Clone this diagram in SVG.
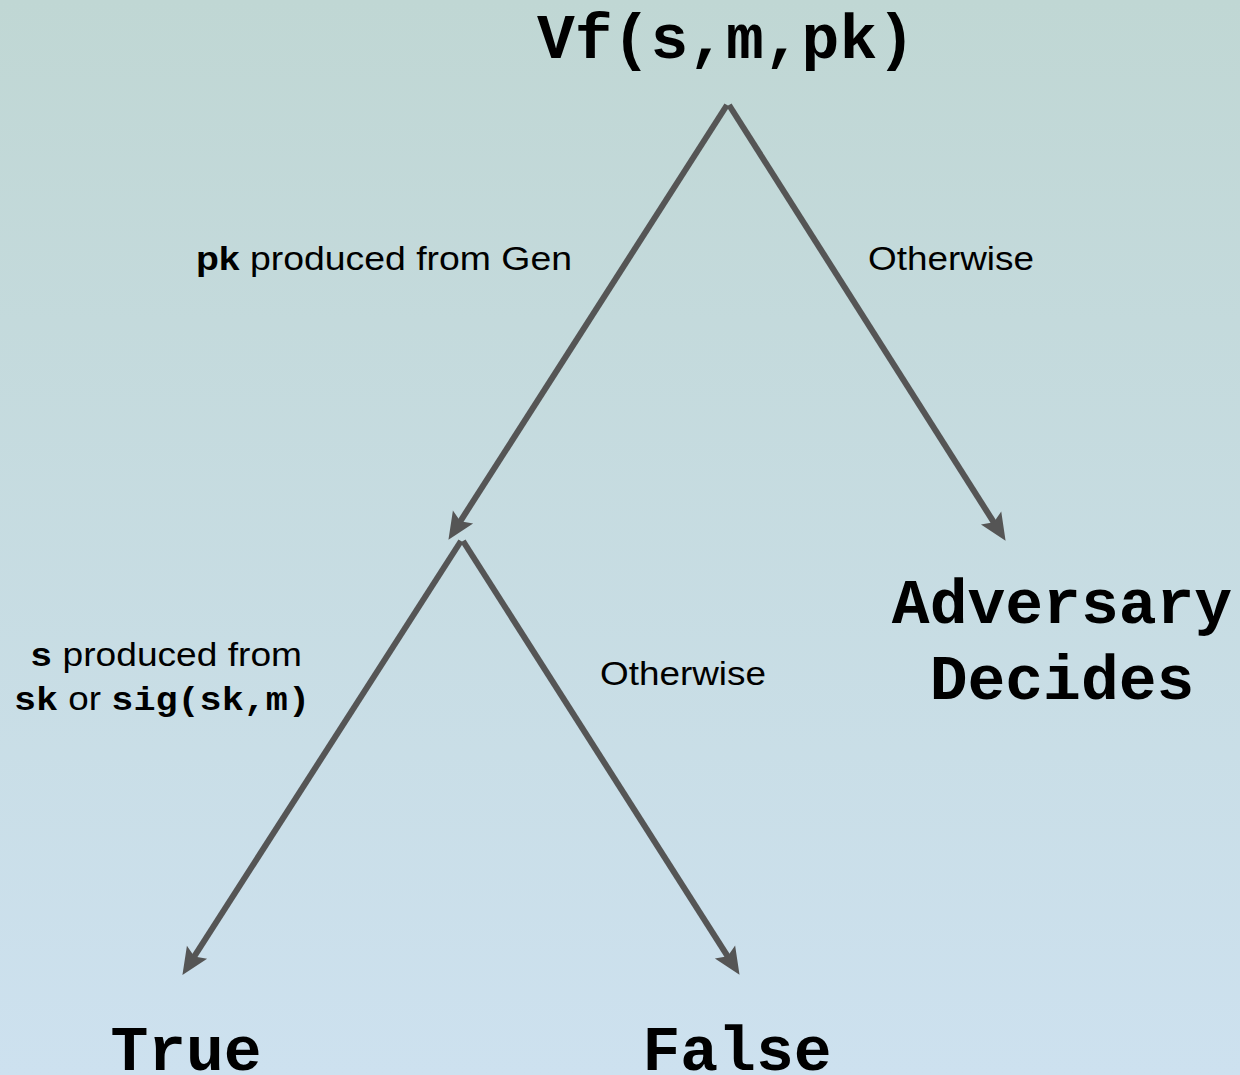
<svg xmlns="http://www.w3.org/2000/svg" width="1240" height="1075" viewBox="0 0 1240 1075">
  <defs>
    <linearGradient id="bg" x1="0" y1="0" x2="0" y2="1">
      <stop offset="0" stop-color="#c0d7d4"/>
      <stop offset="1" stop-color="#cde1ef"/>
    </linearGradient>
    <marker id="arr" markerUnits="userSpaceOnUse" markerWidth="60" markerHeight="60" refX="0" refY="0" orient="auto" viewBox="-30 -30 60 60" overflow="visible">
      <path d="M19,0 L-8,-12 L-3,0 L-8,12 Z" fill="#555555"/>
    </marker>
    <style>
      .edge { stroke: #555555; stroke-width: 6; fill: none; marker-end: url(#arr); }
      .big { font-family: "Liberation Mono", "DejaVu Sans Mono", monospace; font-weight: bold; font-size: 63px; fill: #000; text-anchor: middle; }
      .lbl { font-family: "Liberation Sans", Arial, sans-serif; font-size: 33px; fill: #000; }
      .b { font-weight: bold; }
      .mono { font-family: "Liberation Mono", "DejaVu Sans Mono", monospace; font-weight: bold; }
    </style>
  </defs>
  <rect width="1240" height="1075" fill="url(#bg)"/>
  <g id="connectors">
    <path class="edge" d="M727,105 L458.7,523.8"/>
    <path class="edge" d="M729,105 L995.4,524.8"/>
    <path class="edge" d="M461,541 L192.7,958.9"/>
    <path class="edge" d="M463,541 L729.3,958.8"/>
  </g>
  <g id="edge-labels">
    <text class="lbl" x="196" y="270" textLength="376" lengthAdjust="spacingAndGlyphs"><tspan class="b">pk</tspan> produced from Gen</text>
    <text class="lbl" x="868" y="270" textLength="166" lengthAdjust="spacingAndGlyphs">Otherwise</text>
    <text class="lbl" x="600" y="685" textLength="166" lengthAdjust="spacingAndGlyphs">Otherwise</text>
    <text class="lbl" x="30" y="666" textLength="272" lengthAdjust="spacingAndGlyphs"><tspan class="mono">s</tspan> produced from</text>
    <text class="lbl" x="14" y="710" textLength="296" lengthAdjust="spacingAndGlyphs"><tspan class="mono">sk</tspan> or <tspan class="mono">sig(sk,m)</tspan></text>
  </g>
  <g id="node-root">
    <text class="big" x="726" y="58">Vf(s,m,pk)</text>
  </g>
  <g id="node-adversary">
    <text class="big" x="1062" y="623">Adversary</text>
    <text class="big" x="1062" y="699">Decides</text>
  </g>
  <g id="node-true">
    <text class="big" x="186" y="1070">True</text>
  </g>
  <g id="node-false">
    <text class="big" x="737" y="1070">False</text>
  </g>
</svg>
